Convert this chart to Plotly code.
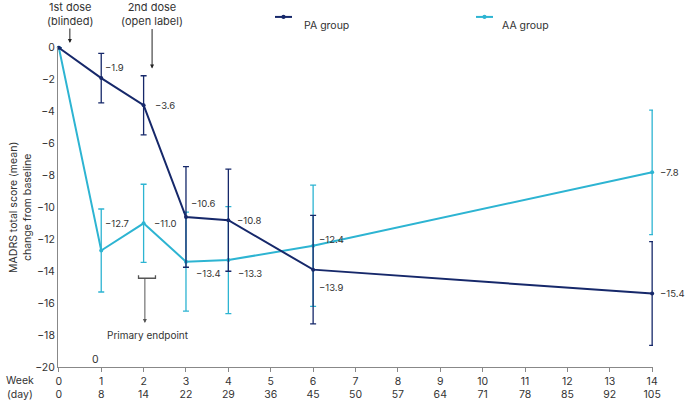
import plotly.graph_objects as go

# 데이터
weeks = [0, 1, 2, 3, 4, 6, 14]
pa_mean = [0, -1.9, -3.6, -10.6, -10.8, -13.9, -15.4]
pa_err = [0, 1.55, 1.85, 3.15, 3.2, 3.4, 3.25]
aa_mean = [0, -12.7, -11.0, -13.4, -13.3, -12.4, -7.8]
aa_err = [0, 2.6, 2.45, 3.1, 3.35, 3.8, 3.9]

tick_weeks = list(range(15))
tick_days = [0, 8, 14, 22, 29, 36, 45, 50, 57, 64, 71, 78, 85, 92, 105]
y_ticks = list(range(0, -21, -2))

PA_COLOR = "#16286a"
AA_COLOR = "#2db4d2"
TEXT_COLOR = "#333333"
FONT = "Inter"

# 라벨 위치 보정 (픽셀 단위, 0번 점은 라벨 없음)
pa_shift = [None, (2, 11), (9, 0), (3, 13), (7, 0), (4, -18), (6, 0)]
aa_shift = [None, (2, 27), (8, 0), (8, -12), (8, -13), (4, 6), (6, 0)]


def fmt(v):
    return f"\u2212{abs(v):.1f}"


fig = go.Figure()
fig.add_trace(go.Scatter(
    x=weeks, y=aa_mean, mode="lines+markers", name="AA group", showlegend=False,
    line=dict(color=AA_COLOR, width=2), marker=dict(size=4, color=AA_COLOR),
    error_y=dict(type="data", array=aa_err, color=AA_COLOR, thickness=1.3, width=3),
    cliponaxis=False,
))
fig.add_trace(go.Scatter(
    x=weeks, y=pa_mean, mode="lines+markers", name="PA group", showlegend=False,
    line=dict(color=PA_COLOR, width=2), marker=dict(size=4, color=PA_COLOR),
    error_y=dict(type="data", array=pa_err, color=PA_COLOR, thickness=1.3, width=3),
    cliponaxis=False,
))

annotations = []
for means, shifts in ((pa_mean, pa_shift), (aa_mean, aa_shift)):
    for w, v, s in zip(weeks, means, shifts):
        if s is None:
            continue
        annotations.append(dict(
            x=w, y=v, text=fmt(v), showarrow=False, xanchor="left", yanchor="middle",
            xshift=s[0], yshift=s[1], font=dict(size=9.5, color=TEXT_COLOR),
        ))

# 투여 시점 화살표 / 기타 주석
annotations += [
    dict(x=0.26, y=1.104, yref="paper", text="1st dose<br>(blinded)", showarrow=False,
         xanchor="center", yanchor="middle", font=dict(size=11, color=TEXT_COLOR)),
    dict(x=0.26, y=1.0125, yref="paper", ax=0, ay=-16, text="", showarrow=True,
         arrowhead=2, arrowsize=0.8, arrowwidth=1, arrowcolor="#222"),
    dict(x=2.2, y=1.104, yref="paper", text="2nd dose<br>(open label)", showarrow=False,
         xanchor="center", yanchor="middle", font=dict(size=11, color=TEXT_COLOR)),
    dict(x=2.2, y=-1.3, ax=0, ay=-41, text="", showarrow=True, arrowhead=2,
         arrowsize=0.8, arrowwidth=1, arrowcolor="#222"),
    dict(x=2.03, y=-17.25, ax=0, ay=-46, text="", showarrow=True, arrowhead=2,
         arrowsize=0.8, arrowwidth=1, arrowcolor="#555"),
    dict(x=2.1, y=-18.0, text="Primary endpoint", showarrow=False,
         font=dict(size=10, color=TEXT_COLOR)),
    dict(x=0.87, y=-19.5, text="0", showarrow=False, font=dict(size=10.5, color=TEXT_COLOR)),
    dict(x=-0.064, xref="paper", y=0, yref="paper", text="Week<br>(day)", showarrow=False,
         xanchor="center", yanchor="middle", yshift=-20.5, font=dict(size=10.5, color=TEXT_COLOR)),
    dict(x=-0.064, xref="paper", y=0.5, yref="paper", textangle=-90,
         text="MADRS total score (mean)<br>change from baseline", showarrow=False,
         xanchor="center", yanchor="middle", font=dict(size=10.5, color=TEXT_COLOR)),
    # 범례 텍스트
    dict(x=0.4101, xref="paper", y=1.094, yref="paper", text="PA group", showarrow=False,
         xanchor="left", font=dict(size=10.5, color=TEXT_COLOR)),
    dict(x=0.7429, xref="paper", y=1.094, yref="paper", text="AA group", showarrow=False,
         xanchor="left", font=dict(size=10.5, color=TEXT_COLOR)),
]

shapes = [
    dict(type="path", xref="x", yref="y",
         path="M 1.88,-14.25 L 1.88,-14.44 L 2.28,-14.44 L 2.28,-14.25",
         line=dict(color="#555", width=1.3)),
]
# 범례 기호 (선 + 점)
for x0, x1, color in ((0.3647, 0.3933, PA_COLOR), (0.7025, 0.7311, AA_COLOR)):
    shapes.append(dict(type="line", xref="paper", yref="paper", x0=x0, x1=x1,
                       y0=1.094, y1=1.094, line=dict(color=color, width=2)))
    xm = (x0 + x1) / 2
    shapes.append(dict(type="circle", xref="paper", yref="paper",
                       x0=xm - 0.0035, x1=xm + 0.0035, y0=1.094 - 0.0065, y1=1.094 + 0.0065,
                       fillcolor=color, line=dict(color=color, width=0)))

fig.update_layout(
    width=685, height=401,
    margin=dict(l=58, r=32, t=47, b=34, autoexpand=False),
    plot_bgcolor="white", paper_bgcolor="white",
    font=dict(family=FONT, size=11, color=TEXT_COLOR),
    showlegend=False,
    annotations=annotations,
    shapes=shapes,
    xaxis=dict(
        range=[-0.02, 14.02], tickvals=tick_weeks,
        ticktext=[f"{w}<br>{d}" for w, d in zip(tick_weeks, tick_days)],
        showline=True, linecolor="#888", linewidth=1, ticks="outside", ticklen=4,
        tickcolor="#888", showgrid=False, zeroline=False, automargin=False,
        tickfont=dict(size=10.5, color=TEXT_COLOR),
    ),
    yaxis=dict(
        range=[-20, 0.05], tickvals=y_ticks, showline=True, linecolor="#888",
        linewidth=1, ticks="", showgrid=False, zeroline=False, automargin=False,
        tickfont=dict(size=10.5, color=TEXT_COLOR),
    ),
)

# 브라우저 기본 body 여백 제거
fig.write_html("out.html", config={"displayModeBar": False},
               post_script="document.body.style.margin='0';")
